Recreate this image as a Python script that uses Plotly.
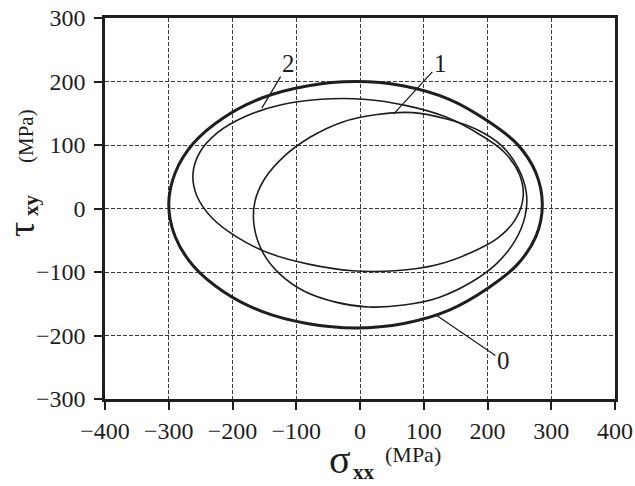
import plotly.graph_objects as go

# Yield-surface traces in the sigma_xx / tau_xy plane (MPa), read as closed loops
surf0_x = [286, 276, 247, 200, 140, 69, -7, -83, -154, -214, -261, -290, -300,
           -290, -261, -214, -154, -83, -7, 69, 140, 200, 247, 276, 286]
surf0_y = [6, 56, 101, 138, 172, 193, 200, 193, 174, 143, 103, 56, 6,
           -44, -91, -131, -162, -181, -188, -181, -160, -126, -88, -44, 6]

surf1_x = [261, 248, 222, 184, 136, 83, 27, -28, -77, -117, -150, -165, -166,
           -152, -126, -88, -40, 13, 69, 124, 173, 213, 243, 259, 261]
surf1_y = [24, 64, 99, 124, 141, 151, 148, 136, 113, 84, 46, 10, -28,
           -70, -103, -130, -147, -155, -152, -140, -117, -88, -51, -12, 24]

surf2_x = [256, 250, 226, 187, 135, 73, 6, -61, -125, -180, -223, -251, -262,
           -256, -232, -193, -141, -79, -12, 55, 119, 171, 217, 245, 256]
surf2_y = [19, 54, 89, 117, 144, 162, 172, 172, 163, 145, 120, 89, 55,
           20, -15, -45, -71, -88, -98, -98, -89, -71, -46, -15, 19]

# Curve labels: text position and the point on the curve the leader reaches
label_text = ["0", "1", "2"]
label_x = [225, 126, -112]
label_y = [-240, 229, 229]
leader_x = [121, 53, -154]
leader_y = [-169, 149, 158]

x_ticks = [-400, -300, -200, -100, 0, 100, 200, 300, 400]
y_ticks = [-300, -200, -100, 0, 100, 200, 300]

ink = "#1e1e1e"
serif = "Liberation Serif"

fig = go.Figure()
fig.add_trace(go.Scatter(x=surf0_x, y=surf0_y, mode="lines",
                         line=dict(color=ink, width=3, shape="spline", smoothing=1.0)))
fig.add_trace(go.Scatter(x=surf1_x, y=surf1_y, mode="lines",
                         line=dict(color=ink, width=1.6, shape="spline", smoothing=1.0)))
fig.add_trace(go.Scatter(x=surf2_x, y=surf2_y, mode="lines",
                         line=dict(color=ink, width=1.6, shape="spline", smoothing=1.0)))

for t, tx, ty, px, py in zip(label_text, label_x, label_y, leader_x, leader_y):
    fig.add_annotation(x=px, y=py, ax=tx, ay=ty, axref="x", ayref="y", xref="x", yref="y",
                       text=t, showarrow=True, arrowhead=0, arrowwidth=1.3, arrowcolor=ink,
                       standoff=0, startstandoff=0,
                       font=dict(family=serif, size=25, color=ink))

axis_common = dict(
    showline=True, linewidth=2.5, linecolor=ink, mirror=True,
    ticks="outside", ticklen=8, tickwidth=2, tickcolor=ink,
    showgrid=True, gridcolor="#3a3a3a", gridwidth=1.3, griddash="4px,2px",
    zeroline=False, automargin=False,
    tickfont=dict(family=serif, size=24, color=ink),
)

fig.update_xaxes(range=[-400, 400], tickvals=x_ticks, **axis_common)
fig.update_yaxes(range=[-300, 300], tickvals=y_ticks, ticklabelstandoff=4, **axis_common)

# Axis titles: sigma_xx (MPa) and tau_xy (MPa)
def paper_x(px):
    return (px - 105) / 510.0

def paper_y(py):
    return (399 - py) / 381.0

fig.add_annotation(xref="paper", yref="paper", x=paper_x(340), y=paper_y(459), text="σ",
                   showarrow=False, xanchor="center", yanchor="middle",
                   font=dict(family=serif, size=40, color=ink))
fig.add_annotation(xref="paper", yref="paper", x=paper_x(364), y=paper_y(472), text="<b>xx</b>",
                   showarrow=False, xanchor="center", yanchor="middle",
                   font=dict(family=serif, size=21, color=ink))
fig.add_annotation(xref="paper", yref="paper", x=paper_x(413), y=paper_y(454), text="(MPa)",
                   showarrow=False, xanchor="center", yanchor="middle",
                   font=dict(family=serif, size=22, color=ink))

fig.add_annotation(xref="paper", yref="paper", x=paper_x(21), y=paper_y(230), text="τ",
                   textangle=-90, showarrow=False, xanchor="center", yanchor="middle",
                   font=dict(family=serif, size=38, color=ink))
fig.add_annotation(xref="paper", yref="paper", x=paper_x(31), y=paper_y(205), text="<b>xy</b>",
                   textangle=-90, showarrow=False, xanchor="center", yanchor="middle",
                   font=dict(family=serif, size=21, color=ink))
fig.add_annotation(xref="paper", yref="paper", x=paper_x(26), y=paper_y(136), text="(MPa)",
                   textangle=-90, showarrow=False, xanchor="center", yanchor="middle",
                   font=dict(family=serif, size=21, color=ink))

fig.update_layout(
    width=635, height=486, autosize=False,
    margin=dict(l=105, r=20, t=18, b=87),
    paper_bgcolor="white", plot_bgcolor="white",
    showlegend=False,
)

fig.write_html("out.html")
